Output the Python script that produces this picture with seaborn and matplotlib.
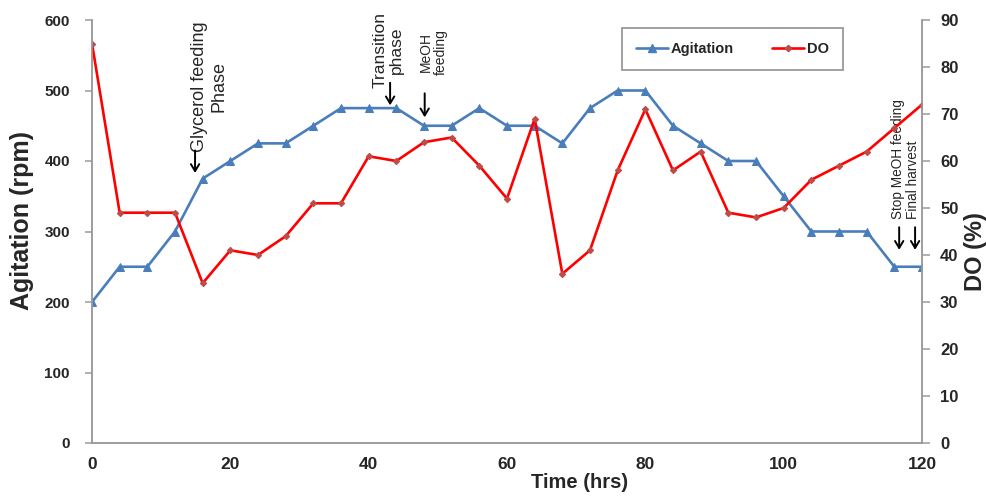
import matplotlib
matplotlib.use("Agg")
import matplotlib.pyplot as plt
import seaborn as sns
import pandas as pd
from matplotlib.lines import Line2D

time_hrs = [0, 4, 8, 12, 16, 20, 24, 28, 32, 36, 40, 44, 48, 52, 56, 60,
            64, 68, 72, 76, 80, 84, 88, 92, 96, 100, 104, 108, 112, 116, 120]
agitation_rpm = [200, 250, 250, 300, 375, 400, 425, 425, 450, 475, 475, 475,
                 450, 450, 475, 450, 450, 425, 475, 500, 500, 450, 425, 400,
                 400, 350, 300, 300, 300, 250, 250]
do_pct = [85, 49, 49, 49, 34, 41, 40, 44, 51, 51, 61, 60, 64, 65, 59, 52,
          69, 36, 41, 58, 71, 58, 62, 49, 48, 50, 56, 59, 62, 67, 72]

x_ticks = [0, 20, 40, 60, 80, 100, 120]
left_ticks = [0, 100, 200, 300, 400, 500, 600]
right_ticks = [0, 10, 20, 30, 40, 50, 60, 70, 80, 90]

df = pd.DataFrame({"Time": time_hrs, "Agitation": agitation_rpm, "DO": do_pct})

sns.set_style("white")
plt.rcParams["font.family"] = ["Liberation Sans", "DejaVu Sans"]

BLUE = "#4a7ebb"
RED = "#ff0000"
RED_M = "#be4b48"
GRAY = "#9a9a9a"

fig = plt.figure(figsize=(9.87, 5.03), dpi=100)
ax = fig.add_axes([92/987, 1-443/503, 830/987, 423/503])
ax2 = ax.twinx()

sns.lineplot(data=df, x="Time", y="Agitation", ax=ax, color=BLUE, lw=1.9,
             marker="^", markersize=5.5, markeredgecolor=BLUE, markerfacecolor=BLUE)
sns.lineplot(data=df, x="Time", y="DO", ax=ax2, color=RED, lw=1.9,
             marker="D", markersize=3.2, markeredgecolor=RED_M, markerfacecolor=RED_M)

ax.set_xlim(0, 120)
ax.set_ylim(0, 600)
ax2.set_ylim(0, 90)
ax.set_xticks(x_ticks)
ax.set_yticks(left_ticks)
ax2.set_yticks(right_ticks)

for a in (ax, ax2):
    for s in a.spines.values():
        s.set_color(GRAY)
        s.set_linewidth(1.1)
    a.spines["top"].set_visible(False)

ax.tick_params(axis="y", direction="out", length=5, color=GRAY, width=1.1, pad=11)
ax.tick_params(axis="x", direction="in", length=4, color=GRAY, width=1.1, pad=10)
ax2.tick_params(axis="y", direction="out", length=6, color=GRAY, width=1.1, pad=7)

for lab in ax.get_xticklabels():
    lab.set_fontweight("bold")
    lab.set_fontsize(12.5)
for lab in ax.get_yticklabels():
    lab.set_fontweight("bold")
    lab.set_fontsize(11)
for lab in ax2.get_yticklabels():
    lab.set_fontweight("bold")
    lab.set_fontsize(12)

ax.set_xlabel("Time (hrs)", fontsize=14.5, fontweight="bold")
ax.xaxis.set_label_coords((580-92)/830, (443-473)/423)
ax.set_ylabel("Agitation (rpm)", fontsize=18, fontweight="bold")
ax.yaxis.set_label_coords((34-92)/830, (443-220)/423)
ax2.set_ylabel("DO (%)", fontsize=17, fontweight="bold")
ax2.yaxis.set_label_coords((964-92)/830, (443-252)/423)

# annotations
arrow = dict(arrowstyle="->,head_length=0.5,head_width=0.3", color="black",
             lw=1.4, shrinkA=0, shrinkB=0)
ax.text(16.9, 506, "Glycerol feeding\nPhase", rotation=90, ha="center", va="center",
        fontsize=13, multialignment="center", linespacing=1.2)
ax.annotate("", xy=(14.9, 383), xytext=(14.9, 415), arrowprops=arrow)
ax.text(42.9, 557, "Transition\nphase", rotation=90, ha="center", va="center",
        fontsize=12.5, multialignment="center", linespacing=1.1)
ax.annotate("", xy=(43.1, 479), xytext=(43.1, 511), arrowprops=arrow)
ax.text(49.4, 555, "MeOH\nfeeding", rotation=90, ha="center", va="center",
        fontsize=10, multialignment="center", linespacing=1.1)
ax.annotate("", xy=(48.1, 462), xytext=(48.1, 496), arrowprops=arrow)
ax.text(117.6, 318, "Stop MeOH feeding\nFinal harvest", rotation=90, ha="center",
        va="bottom", fontsize=9.8, multialignment="left", linespacing=1.15)
ax.annotate("", xy=(116.7, 274), xytext=(116.7, 306), arrowprops=arrow)
ax.annotate("", xy=(119.0, 274), xytext=(119.0, 306), arrowprops=arrow)

handles = [Line2D([], [], color=BLUE, lw=1.9, marker="^", markersize=5.5),
           Line2D([], [], color=RED, lw=1.9, marker="D", markersize=3.2,
                  markerfacecolor=RED_M, markeredgecolor=RED_M)]
leg = fig.legend(handles, ["Agitation", "DO"], loc="upper left",
                 bbox_to_anchor=(622/987, 1-28/503), borderaxespad=0, ncol=2,
                 frameon=True, fancybox=False, edgecolor="#7f7f7f",
                 handlelength=2.2, columnspacing=2.6, borderpad=0.95,
                 handletextpad=0.2,
                 prop=dict(weight="bold", size=10.5))
leg.get_frame().set_linewidth(1.3)

fig.savefig("out.png", dpi=100)
